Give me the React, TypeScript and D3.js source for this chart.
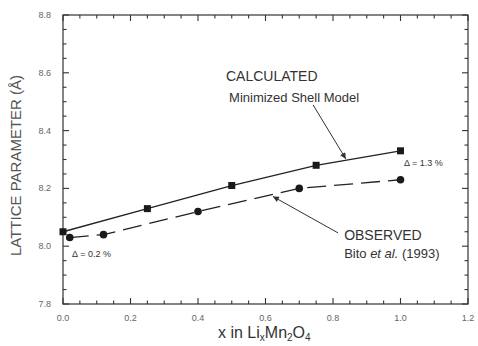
import { useEffect, useRef } from 'react';
import * as d3 from 'd3';

// calculated (minimized shell model), squares
const calcX = [0.0, 0.25, 0.5, 0.75, 1.0];
const calcY = [8.05, 8.13, 8.21, 8.28, 8.33];

// observed (Bito et al. 1993), circles
const obsX = [0.02, 0.12, 0.4, 0.7, 1.0];
const obsY = [8.03, 8.04, 8.12, 8.2, 8.23];

const xTicks = [0, 0.2, 0.4, 0.6, 0.8, 1.0, 1.2];
const yTicks = [7.8, 8.0, 8.2, 8.4, 8.6, 8.8];

const W = 478;
const H = 346;
const margin = { top: 15, right: 10, bottom: 42, left: 63 };
const FONT = '"Liberation Sans", Arial, Helvetica, sans-serif';

const App = () => {
  const svgRef = useRef<SVGSVGElement>(null);

  useEffect(() => {
    const svg = d3.select(svgRef.current);
    svg.selectAll('*').remove();

    const innerW = W - margin.left - margin.right;
    const innerH = H - margin.top - margin.bottom;

    const x = d3.scaleLinear().domain([0, 1.2]).range([0, innerW]);
    const y = d3.scaleLinear().domain([7.8, 8.8]).range([innerH, 0]);

    const defs = svg.append('defs');
    defs.append('marker')
      .attr('id', 'arrow')
      .attr('viewBox', '0 0 10 10')
      .attr('refX', 10)
      .attr('refY', 5)
      .attr('markerWidth', 9)
      .attr('markerHeight', 6)
      .attr('markerUnits', 'userSpaceOnUse')
      .attr('orient', 'auto')
      .append('path')
      .attr('d', 'M0,0 L10,5 L0,10 z')
      .attr('fill', '#333');

    const g = svg.append('g')
      .attr('transform', `translate(${margin.left},${margin.top})`);

    const axisColor = '#333';
    const minorX = d3.range(0, 1.2001, 0.05);
    const minorY = d3.range(7.8, 8.8001, 0.05);
    const isMajor = (v: number) => Math.abs(v * 5 - Math.round(v * 5)) < 1e-6;

    // frame
    g.append('rect')
      .attr('width', innerW)
      .attr('height', innerH)
      .attr('fill', 'none')
      .attr('stroke', axisColor)
      .attr('stroke-width', 1.2);

    // inward ticks on all four sides
    const ticks = g.append('g').attr('stroke', axisColor).attr('stroke-width', 1.1);
    minorX.forEach(v => {
      const len = isMajor(v) ? 6 : 3.5;
      ticks.append('line')
        .attr('x1', x(v)).attr('x2', x(v))
        .attr('y1', innerH).attr('y2', innerH - len);
      ticks.append('line')
        .attr('x1', x(v)).attr('x2', x(v))
        .attr('y1', 0).attr('y2', len);
    });
    minorY.forEach(v => {
      const len = isMajor(v) ? 6 : 3.5;
      ticks.append('line')
        .attr('x1', 0).attr('x2', len)
        .attr('y1', y(v)).attr('y2', y(v));
      ticks.append('line')
        .attr('x1', innerW).attr('x2', innerW - len)
        .attr('y1', y(v)).attr('y2', y(v));
    });

    const fmt = d3.format('.1f');
    g.selectAll('.xl')
      .data(xTicks)
      .enter()
      .append('text')
      .attr('x', d => x(d))
      .attr('y', innerH + 17)
      .attr('text-anchor', 'middle')
      .style('font-family', FONT)
      .style('font-size', '9px')
      .attr('fill', '#666')
      .text(d => fmt(d));

    g.selectAll('.yl')
      .data(yTicks)
      .enter()
      .append('text')
      .attr('x', -12)
      .attr('y', d => y(d) + 3)
      .attr('text-anchor', 'end')
      .style('font-family', FONT)
      .style('font-size', '9px')
      .attr('fill', '#666')
      .text(d => fmt(d));

    const calc = calcX.map((v, i) => ({ x: v, y: calcY[i] }));
    const obs = obsX.map((v, i) => ({ x: v, y: obsY[i] }));

    const line = d3.line<{ x: number; y: number }>()
      .x(d => x(d.x))
      .y(d => y(d.y));

    g.append('path')
      .datum(calc)
      .attr('fill', 'none')
      .attr('stroke', '#222')
      .attr('stroke-width', 1.3)
      .attr('d', line);

    g.append('path')
      .datum(obs)
      .attr('fill', 'none')
      .attr('stroke', '#222')
      .attr('stroke-width', 1.3)
      .attr('stroke-dasharray', '19,8')
      .attr('d', line);

    g.selectAll('.sq')
      .data(calc)
      .enter()
      .append('rect')
      .attr('x', d => x(d.x) - 3.5)
      .attr('y', d => y(d.y) - 3.5)
      .attr('width', 7)
      .attr('height', 7)
      .attr('fill', '#1a1a1a');

    g.selectAll('.dot')
      .data(obs)
      .enter()
      .append('circle')
      .attr('cx', d => x(d.x))
      .attr('cy', d => y(d.y))
      .attr('r', 3.8)
      .attr('fill', '#1a1a1a');

    // annotations (data coordinates)
    const arrows = [
      { x1: 0.741, y1: 8.489, x2: 0.838, y2: 8.302 },
      { x1: 0.815, y1: 8.046, x2: 0.622, y2: 8.172 },
    ];
    arrows.forEach(a => {
      g.append('line')
        .attr('x1', x(a.x1)).attr('y1', y(a.y1))
        .attr('x2', x(a.x2)).attr('y2', y(a.y2))
        .attr('stroke', '#333')
        .attr('stroke-width', 1)
        .attr('marker-end', 'url(#arrow)');
    });

    const labels = [
      { x: 0.483, y: 8.573, text: 'CALCULATED', size: 14 },
      { x: 0.492, y: 8.498, text: 'Minimized Shell Model', size: 13 },
      { x: 0.833, y: 8.021, text: 'OBSERVED', size: 14 },
      { x: 1.01, y: 8.276, text: 'Δ = 1.3 %', size: 9 },
      { x: 0.027, y: 7.964, text: 'Δ = 0.2 %', size: 9 },
    ];
    labels.forEach(l => {
      g.append('text')
        .attr('x', x(l.x))
        .attr('y', y(l.y))
        .style('font-family', FONT)
        .style('font-size', `${l.size}px`)
        .attr('fill', '#333')
        .text(l.text);
    });

    const bito = g.append('text')
      .attr('x', x(0.833))
      .attr('y', y(7.959))
      .style('font-family', FONT)
      .style('font-size', '13px')
      .attr('fill', '#333');
    bito.append('tspan').text('Bito ');
    bito.append('tspan').style('font-style', 'italic').text('et al.');
    bito.append('tspan').text(' (1993)');

    // axis titles
    svg.append('text')
      .attr('transform', `translate(21,${margin.top + innerH / 2 + 6}) rotate(-90)`)
      .attr('text-anchor', 'middle')
      .style('font-family', FONT)
      .style('font-size', '15px')
      .attr('fill', '#555')
      .text('LATTICE PARAMETER (Å)');

    const xt = svg.append('text')
      .attr('x', 218)
      .attr('y', 338)
      .style('font-family', FONT)
      .style('font-size', '16px')
      .attr('fill', '#333');
    xt.append('tspan').text('x in Li');
    xt.append('tspan').attr('dy', 3).style('font-size', '10px').text('x');
    xt.append('tspan').attr('dy', -3).text('Mn');
    xt.append('tspan').attr('dy', 3).style('font-size', '10px').text('2');
    xt.append('tspan').attr('dy', -3).text('O');
    xt.append('tspan').attr('dy', 3).style('font-size', '10px').text('4');
  }, []);

  return (
    <svg
      ref={svgRef}
      width={W}
      height={H}
      style={{ position: 'absolute', left: 0, top: 0, background: '#fff' }}
    />
  );
};

export default App;
